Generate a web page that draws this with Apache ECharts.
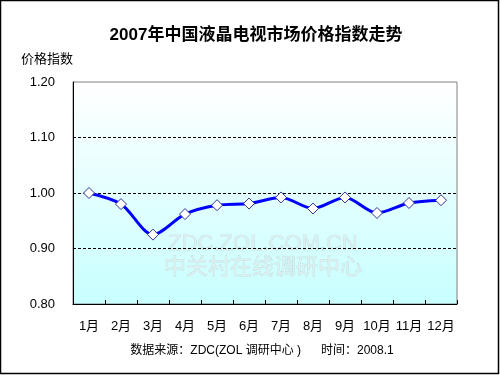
<!DOCTYPE html>
<html><head><meta charset="utf-8">
<script src="https://cdn.jsdelivr.net/npm/echarts@6/dist/echarts.min.js"></script>
<style>html,body{margin:0;padding:0;background:#fff}#c{width:500px;height:375px}</style>
</head><body><div id="c"></div>
<script>
var titleText = '2007年中国液晶电视市场价格指数走势';
var yName = '价格指数';
var months = ['1月','2月','3月','4月','5月','6月','7月','8月','9月','10月','11月','12月'];
var priceIndex = [1.000, 0.980, 0.925, 0.962, 0.978, 0.981, 0.992, 0.972, 0.992, 0.964, 0.982, 0.987];
var yTicks = [0.80, 0.90, 1.00, 1.10, 1.20];
var footerText = '数据来源：ZDC(ZOL 调研中心 )      时间：2008.1';
var watermark1 = 'ZDC.ZOL.COM.CN';
var watermark2 = '中关村在线调研中心';

var FF = '"Liberation Sans", "Noto Sans CJK SC", sans-serif';
var chart = echarts.init(document.getElementById('c'), null, {renderer:'canvas'});
chart.setOption({
  animation: false,
  backgroundColor: '#fff',
  textStyle: {fontFamily: FF},
  grid: {
    left: 73, right: 43, top: 82, bottom: 71,
    show: true,
    borderColor: '#808080', borderWidth: 1,
    backgroundColor: new echarts.graphic.LinearGradient(0,0,0,1,[
      {offset:0, color:'#ffffff'},
      {offset:1, color:'#c8ffff'}
    ])
  },
  xAxis: {
    type: 'category',
    data: months,
    boundaryGap: true,
    axisLine: {lineStyle:{color:'#000', width:1}},
    axisTick: {show:true, inside:true, length:4, interval:0, lineStyle:{color:'#000'}},
    axisLabel: {color:'#000', fontSize:13, margin:16, interval:0, fontFamily: FF},
    splitLine: {show:false}
  },
  yAxis: {
    type: 'value',
    min: yTicks[0], max: yTicks[yTicks.length-1], interval: 0.1,
    name: yName,
    nameLocation: 'end',
    nameGap: 23,
    nameTextStyle: {color:'#000', fontSize:13, align:'right', verticalAlign:'middle', fontFamily: FF},
    axisLine: {show:true, lineStyle:{color:'#000', width:1}},
    axisTick: {show:false},
    axisLabel: {color:'#000', fontSize:13, margin:18, fontFamily: FF,
      formatter: function(v){ return v.toFixed(2); }},
    splitLine: {show:true, showMinLine:false, showMaxLine:false, lineStyle:{color:'#000', type:[3,2], width:1}}
  },
  graphic: [
    {type:'text', position:[256,35],
     style:{text:titleText, x:0, y:0, align:'center', verticalAlign:'middle', fill:'#000',
       font:'bold 17px ' + FF}},
    {type:'text', position:[262,351],
     style:{text:footerText, x:0, y:0, align:'center', verticalAlign:'middle', fill:'#000',
       font:'12px ' + FF}},
    {type:'text', position:[263,244], z:0,
     style:{text:watermark1, x:0, y:0, align:'center', verticalAlign:'middle', fill:'#dcf0f0',
       stroke:'#b4cccc', lineWidth:0.5, font:'22px ' + FF}},
    {type:'text', position:[263,268], z:0,
     style:{text:watermark2, x:0, y:0, align:'center', verticalAlign:'middle', fill:'#dcf0f0',
       stroke:'#b4cccc', lineWidth:0.5, font:'22px ' + FF}},
    {type:'rect', shape:{x:0.5, y:0.5, width:498, height:373}, z:100,
     style:{fill:'none', stroke:'#000', lineWidth:1.5}}
  ],
  series: [{
    type: 'line',
    data: priceIndex,
    smooth: 0.3,
    symbol: 'diamond',
    symbolSize: 11,
    lineStyle: {color:'#0000ff', width:3},
    itemStyle: {color:'#ffffff', borderColor:'#333399', borderWidth:1},
    z: 5
  }]
});
</script></body></html>
